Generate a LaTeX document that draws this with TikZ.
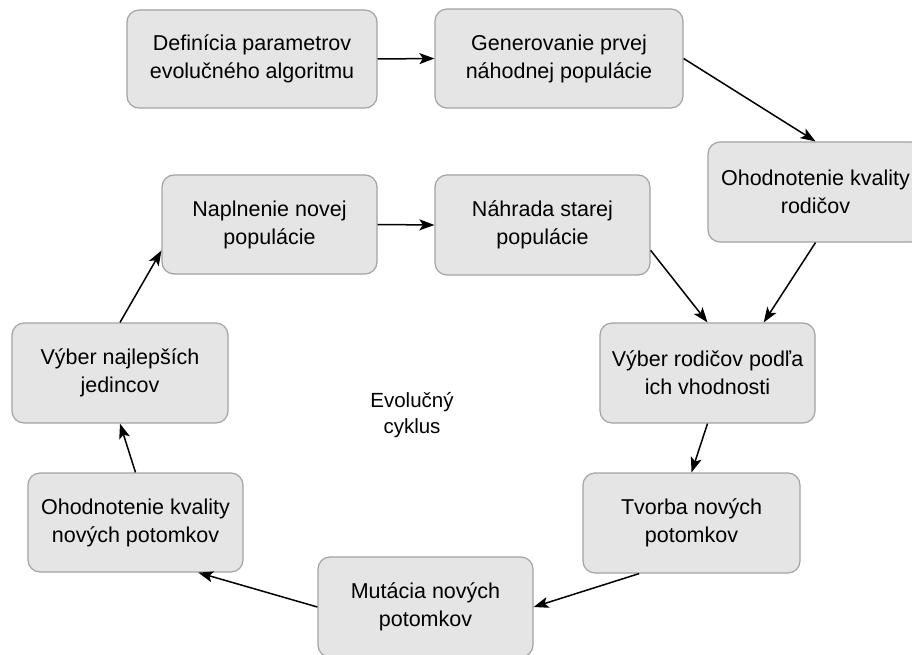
\documentclass[tikz,border=0pt]{standalone}
\usepackage{fontspec}
\setmainfont{Liberation Sans}
\usetikzlibrary{arrows.meta,calc}
\definecolor{boxfill}{HTML}{E5E5E5}
\definecolor{boxline}{HTML}{A3A3A3}
\tikzset{
  stepbox/.style={draw=boxline, fill=boxfill, line width=1.2pt, rounded corners=12pt,
    minimum width=215pt, minimum height=100pt, inner sep=0pt, align=center,
    font=\fontsize{21.5}{28}\selectfont},
  flow/.style={line width=1.5pt, -{Stealth[length=15pt,width=11pt,inset=3.5pt]}},
}
\begin{document}
\begin{tikzpicture}[x=1pt,y=-1pt]
\clip (0,0) rectangle (912,655);
\fill[white] (0,0) rectangle (912,655);

% process steps
\node[stepbox, minimum width=250pt, minimum height=98pt] (def) at (252,59) {Definícia parametrov\\evolučného algoritmu};
\node[stepbox, minimum width=248pt, minimum height=99pt] (gen) at (559,58.5) {Generovanie prvej\\náhodnej populácie};
\node[stepbox] (evalpar) at (815.5,192) {Ohodnotenie kvality\\rodičov};
\node[stepbox] (repl) at (542.5,225) {Náhrada starej\\populácie};
\node[stepbox, minimum height=99pt] (fill) at (269.5,224.5) {Naplnenie novej\\populácie};
\node[stepbox, minimum width=216pt] (best) at (120,373) {Výber najlepších\\jedincov};
\node[stepbox] (sel) at (707.5,373) {Výber rodičov podľa\\ich vhodnosti};
\node[stepbox, minimum height=99pt] (evalch) at (135.5,522.5) {Ohodnotenie kvality\\nových potomkov};
\node[stepbox, minimum width=217pt] (cross) at (691.5,523) {Tvorba nových\\potomkov};
\node[stepbox] (mut) at (425.5,607) {Mutácia nových\\potomkov};

\node[align=center, font=\fontsize{20.5}{26}\selectfont] (cycle) at (412,415) {Evolučný\\cyklus};

% connectors
\draw[flow] (def.east) -- (gen.west);
\draw[flow] (gen.east) -- (evalpar.north);
\draw[flow] (evalpar.south) -- ($(sel.north west)!0.76!(sel.north east)$);
\draw[flow] ($(repl.north east)!0.75!(repl.south east)$) -- (sel.north);
\draw[flow] (sel.south) -- (cross.north);
\draw[flow] ($(cross.south west)!0.26!(cross.south east)$) -- (mut.east);
\draw[flow] (mut.west) -- ($(evalch.south west)!0.79!(evalch.south east)$);
\draw[flow] (evalch.north) -- (best.south);
\draw[flow] (best.north) -- ($(fill.north west)!0.76!(fill.south west)$);
\draw[flow] (fill.east) -- (repl.west);
\end{tikzpicture}
\end{document}
